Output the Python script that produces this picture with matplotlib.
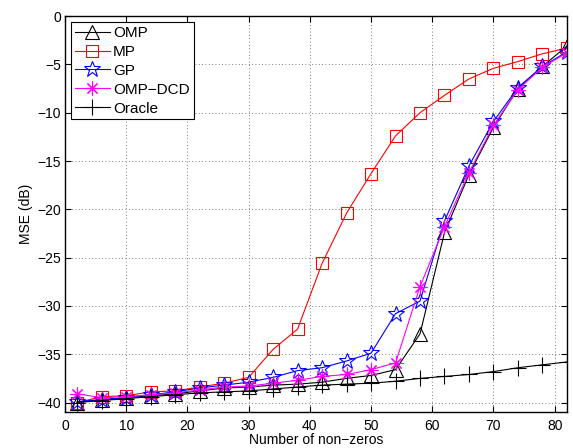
import matplotlib
matplotlib.use('Agg')
import matplotlib.pyplot as plt

plt.rcParams['font.family'] = ['Liberation Sans', 'DejaVu Sans']

# number of non-zeros
k = [2, 6, 10, 14, 18, 22, 26, 30, 34, 38, 42, 46, 50, 54, 58, 62, 66, 70, 74, 78, 82]

omp = [-40.0, -39.7, -39.5, -39.3, -39.1, -38.8, -38.5, -38.4, -38.2, -38.1, -37.9,
       -37.5, -37.2, -36.6, -32.9, -22.4, -16.4, -11.5, -7.5, -5.2, -3.1]
mp = [-40.0, -39.4, -39.3, -38.9, -38.8, -38.4, -38.0, -37.4, -34.5, -32.4, -25.6,
      -20.4, -16.3, -12.4, -10.0, -8.2, -6.5, -5.4, -4.7, -3.9, -3.3]
gp = [-39.9, -39.7, -39.5, -39.2, -38.9, -38.5, -38.2, -37.9, -37.4, -36.7, -36.4,
      -35.7, -34.9, -30.8, -29.5, -21.2, -15.5, -10.9, -7.4, -5.2, -3.7]
ompdcd = [-39.1, -39.5, -39.4, -39.2, -39.0, -38.7, -38.4, -38.3, -38.0, -37.7, -37.3,
          -37.1, -36.6, -35.9, -28.0, -21.8, -16.2, -11.3, -7.6, -5.3, -3.8]
oracle = [-40.0, -39.8, -39.6, -39.4, -39.2, -39.0, -38.9, -38.8, -38.6, -38.4, -38.2,
          -38.1, -38.0, -37.8, -37.5, -37.3, -37.1, -36.8, -36.4, -36.1, -35.8]

fig = plt.figure(figsize=(5.73, 4.48), dpi=100)
ax = fig.add_axes([0.1134, 0.080, 0.876, 0.884])

lw = 0.8
ax.plot(k, omp, color='black', marker='^', markersize=10, mfc='none', mew=0.8, lw=lw, label='OMP')
ax.plot(k, mp, color='red', marker='s', markersize=8.5, mfc='none', mew=0.8, lw=lw, label='MP')
ax.plot(k, gp, color='blue', marker='*', markersize=12, mfc='none', mew=0.8, lw=lw, label='GP')
ax.plot(k, ompdcd, color='magenta', marker=(8, 2, 0), markersize=10, mew=0.8, lw=lw, label='OMP\u2212DCD')
ax.plot(k, oracle, color='black', marker='+', markersize=11, mew=0.8, lw=lw, label='Oracle')

ax.set_xlim(0, 82)
ax.set_ylim(-41, 0)
ax.set_xticks([0, 10, 20, 30, 40, 50, 60, 70, 80])
ax.set_yticks([-40, -35, -30, -25, -20, -15, -10, -5, 0])
ax.set_yticklabels(['\u221240', '\u221235', '\u221230', '\u221225', '\u221220',
                    '\u221215', '\u221210', '\u22125', '0'])
ax.tick_params(direction='in', top=True, right=True, labelsize=10, length=4)
ax.tick_params(axis='x', pad=5)
ax.tick_params(axis='y', pad=3)
ax.grid(True, color='#555555', linestyle=(0, (1, 3)), linewidth=0.6)
ax.set_axisbelow(True)
for s in ax.spines.values():
    s.set_linewidth(1.0)

ax.set_xlabel('Number of non\u2212zeros', fontsize=10, labelpad=0)
ax.set_ylabel('MSE (dB)', fontsize=10, labelpad=3)

leg = ax.legend(loc='upper left', fontsize=11, fancybox=False, framealpha=1,
                edgecolor='black', borderaxespad=0.4, handlelength=2.3,
                labelspacing=0.32, borderpad=0.25, handletextpad=0.2)
leg.get_frame().set_linewidth(0.8)

plt.savefig('out.png', dpi=100)
